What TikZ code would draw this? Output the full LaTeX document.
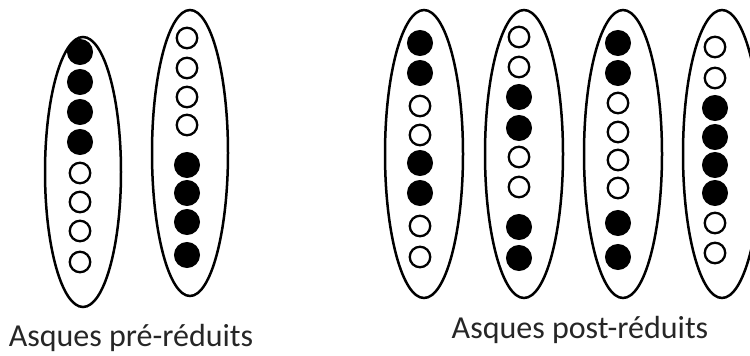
\documentclass[tikz,border=0pt]{standalone}
\usepackage{fontspec}
\setmainfont{Carlito}
\begin{document}
\begin{tikzpicture}[x=1pt,y=-1pt,
  ascus/.style={draw=black,line width=2.5pt},
  full/.style={circle,draw=black,fill=black,line width=1.5pt,minimum size=24.5pt,inner sep=0pt},
  empty/.style={circle,draw=black,fill=white,line width=2.3pt,minimum size=20.5pt,inner sep=0pt},
  lab/.style={font=\fontsize{32}{38}\selectfont,inner sep=0pt,text=black!85}]
\useasboundingbox (0,0) rectangle (750,356);
\clip (0,0) rectangle (750,356);
% ascus ellipses
\draw[ascus] (83,172) ellipse [x radius=38, y radius=135];
\draw[ascus] (190,153) ellipse [x radius=38, y radius=143];
\draw[ascus] (424,154) ellipse [x radius=39, y radius=144];
\draw[ascus] (524,154) ellipse [x radius=39, y radius=144];
\draw[ascus] (623,154) ellipse [x radius=39, y radius=144];
\draw[ascus] (722,154) ellipse [x radius=39, y radius=144];
% spores ascus 1
\foreach \y/\s [count=\i] in {52/full,82/full,112/full,142/full,173/empty,202/empty,231/empty,262/empty}
  \node[\s] (a1s\i) at (80,\y) {};
% ascus 2
\foreach \y/\s [count=\i] in {38/empty,68/empty,97/empty,125/empty,165/full,193/full,222/full,255/full}
  \node[\s] (a2s\i) at (187,\y) {};
% ascus 3
\foreach \y/\s [count=\i] in {43/full,73/full,106/empty,135/empty,163/full,193/full,226/empty,257/empty}
  \node[\s] (a3s\i) at (420,\y) {};
% ascus 4
\foreach \y/\s [count=\i] in {37/empty,67/empty,97/full,128/full,157/empty,187/empty,227/full,258/full}
  \node[\s] (a4s\i) at (519,\y) {};
% ascus 5
\foreach \y/\s [count=\i] in {43/full,73/full,103/empty,132/empty,160/empty,188/empty,223/full,257/full}
  \node[\s] (a5s\i) at (618,\y) {};
% ascus 6
\foreach \y/\s [count=\i] in {47/empty,78/empty,108/full,137/full,165/full,193/full,223/empty,253/empty}
  \node[\s] (a6s\i) at (715,\y) {};
% labels
\node[lab] (pre) at (131,338) {Asques pré-réduits};
\node[lab] (post) at (580,330) {Asques post-réduits};
\end{tikzpicture}
\end{document}
